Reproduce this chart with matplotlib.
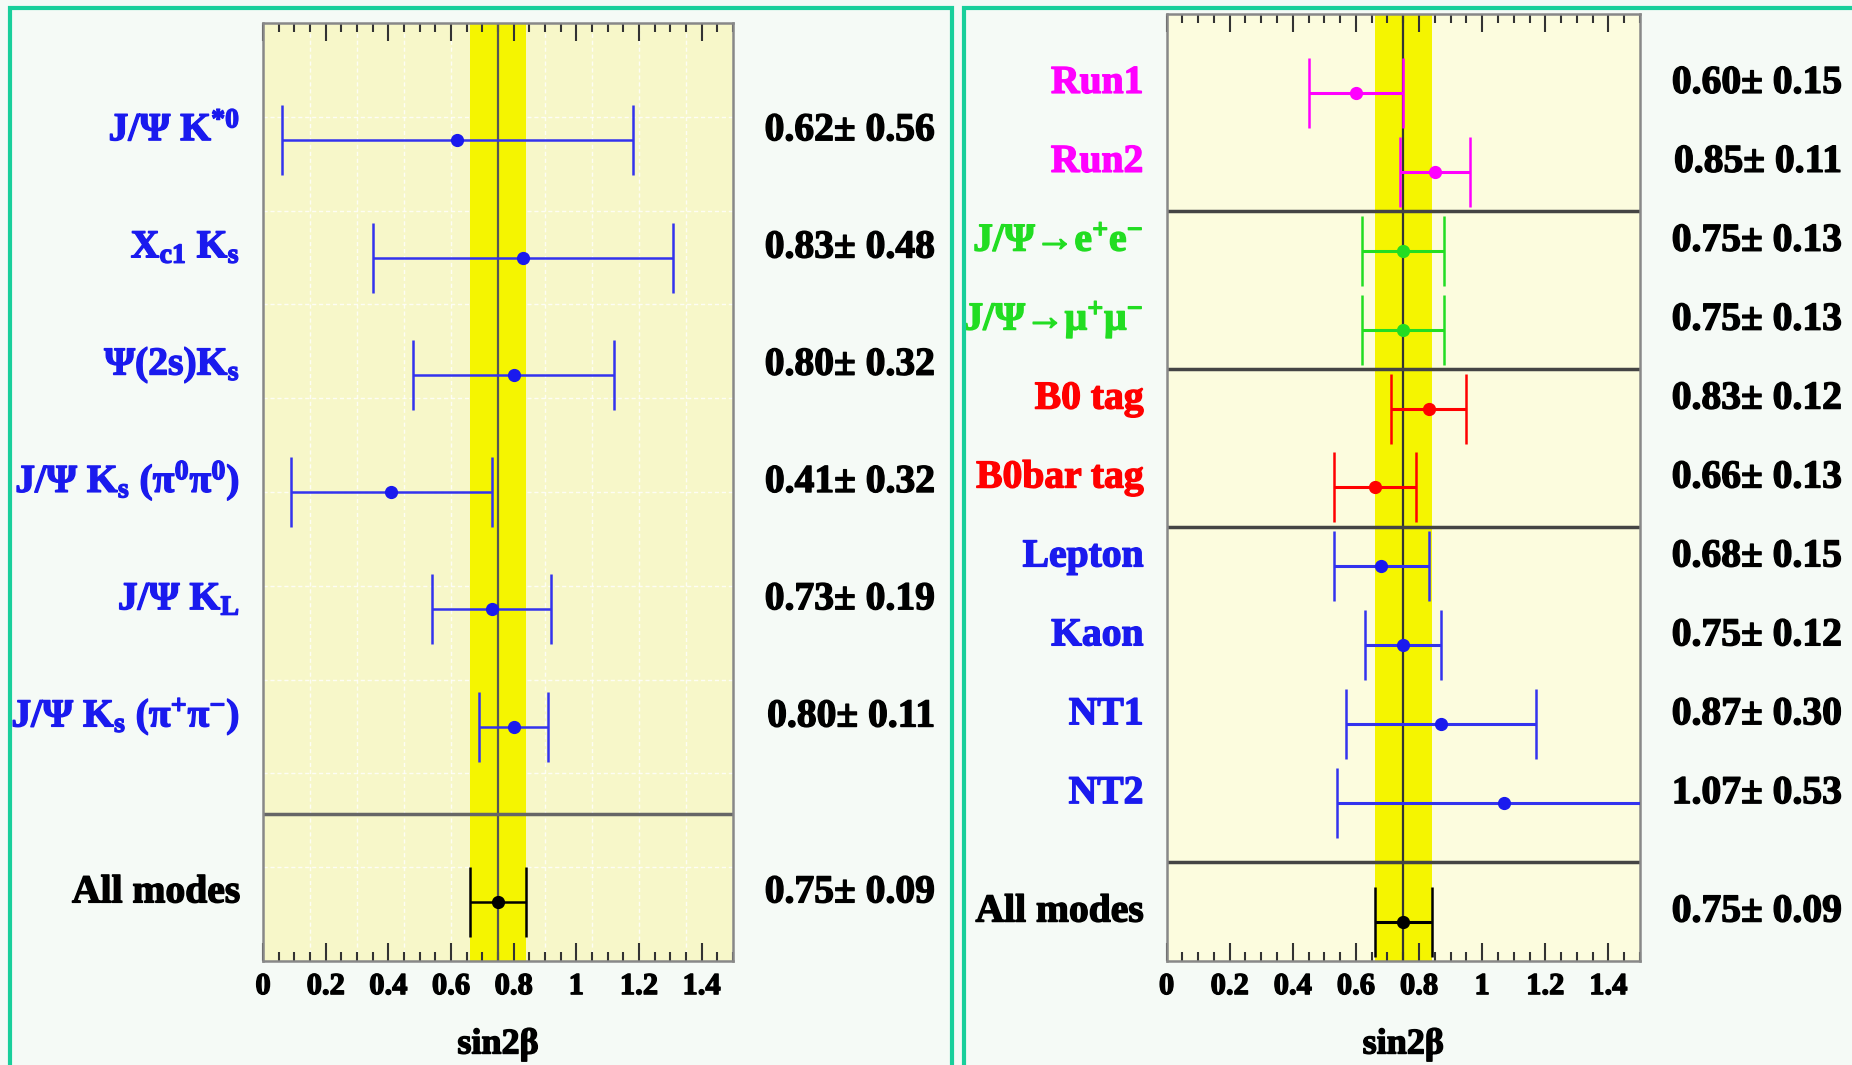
import numpy as np
import matplotlib
matplotlib.use('Agg')
import matplotlib.pyplot as plt
import matplotlib.patheffects as pe
from matplotlib.patches import Rectangle
from matplotlib.ticker import MultipleLocator, FormatStrFormatter

# Data: sin2beta per decay mode (left) and per subsample (right)
left_labels = [r'J/Ψ K$^{*0}$', r'X$_{\rm c1}$ K$_{\rm s}$', r'Ψ(2s)K$_{\rm s}$',
               r'J/Ψ K$_{\rm s}$ (π$^{0}$π$^{0}$)', r'J/Ψ K$_{\rm L}$',
               r'J/Ψ K$_{\rm s}$ (π$^{+}$π$^{-}$)', 'All modes']
left_vals = [0.62, 0.83, 0.80, 0.41, 0.73, 0.80, 0.75]
left_errs = [0.56, 0.48, 0.32, 0.32, 0.19, 0.11, 0.09]
left_rows = [1, 2, 3, 4, 5, 6, 7.5]
left_seps = [6.75]

right_labels = ['Run1', 'Run2', r'J/Ψ→e$^{+}$e$^{-}$', r'J/Ψ→μ$^{+}$μ$^{-}$',
                'B0 tag', 'B0bar tag', 'Lepton', 'Kaon', 'NT1', 'NT2', 'All modes']
right_vals = [0.60, 0.85, 0.75, 0.75, 0.83, 0.66, 0.68, 0.75, 0.87, 1.07, 0.75]
right_errs = [0.15, 0.11, 0.13, 0.13, 0.12, 0.13, 0.15, 0.12, 0.30, 0.53, 0.09]
right_rows = [1, 2, 3, 4, 5, 6, 7, 8, 9, 10, 11.5]
right_seps = [2.5, 4.5, 6.5, 10.75]
right_colors = ['#ff00ff', '#ff00ff', '#22dd22', '#22dd22', '#ff0000', '#ff0000',
                '#1a1aee', '#1a1aee', '#1a1aee', '#1a1aee', 'black']

avg, avg_err = 0.75, 0.09

plt.rcParams['font.family'] = ['Liberation Serif', 'DejaVu Serif']
plt.rcParams['font.weight'] = 'bold'
plt.rcParams['mathtext.fontset'] = 'custom'
plt.rcParams['mathtext.rm'] = 'Liberation Serif:bold'
plt.rcParams['mathtext.it'] = 'Liberation Serif:italic:bold'
plt.rcParams['mathtext.bf'] = 'Liberation Serif:bold'
plt.rcParams['hatch.linewidth'] = 2.0

W, H = 1852, 1065
fig = plt.figure(figsize=(W / 100, H / 100), dpi=100, facecolor='#f5faf6')

# green frames around the two panels
for x0, x1 in [(10, 952), (964, 1900)]:
    fig.add_artist(Rectangle((x0 / W, -0.2), (x1 - x0) / W, (H - 8) / H + 0.2,
                             transform=fig.transFigure, fill=False,
                             edgecolor='#19cf9b', lw=3))


def heavy(c):
    return [pe.withStroke(linewidth=1.0, foreground=c)]


def panel(rect, labels, vals, errs, rows, seps, colors, nrows, hatched):
    ax = fig.add_axes(rect)
    ax.set_xlim(0, 1.5)
    ax.set_ylim(nrows, 0)
    if hatched:
        ax.set_facecolor('#f5f5b8')
        ax.add_patch(Rectangle((0, 0), 1, 1, transform=ax.transAxes, facecolor='none',
                               edgecolor='#fcfcde', hatch='\\' * 14, lw=0, zorder=0))
    else:
        ax.set_facecolor('#f7f7c9')
        for gx in np.arange(0.15, 1.5, 0.15):
            ax.axvline(gx, color='white', lw=1, ls=(0, (3, 2)), alpha=0.8, zorder=0)
        for gy in np.arange(0.8, 8, 0.8):
            ax.axhline(gy, color='white', lw=1, ls=(0, (3, 2)), alpha=0.8, zorder=0)

    ax.axvspan(avg - avg_err, avg + avg_err, color='#f5f500', lw=0, zorder=1)
    ax.axvline(avg, color='#333333' if hatched else '#555555', lw=1.6, zorder=2)
    for s in seps:
        ax.axhline(s, color='#444444' if hatched else '#666666', lw=2.5, zorder=2)

    for lab, v, e, r, c in zip(labels, vals, errs, rows, colors):
        ecol = '#3333ee' if c == '#1a1aee' else c
        ax.errorbar(v, r, xerr=e, fmt='o', color=c, ecolor=ecol, ms=8.5,
                    elinewidth=2.2 if hatched else 1.8, capsize=25,
                    capthick=1.8, zorder=3)
        ax.annotate(lab, xy=(0, r), xycoords=('axes fraction', 'data'),
                    xytext=(-23, 0), textcoords='offset pixels',
                    ha='right', va='baseline', fontsize=28.5, color=c,
                    fontweight='bold', annotation_clip=False,
                    path_effects=heavy(c))
        ax.annotate('%.2f± %.2f' % (v, e), xy=(1, r), xycoords=('axes fraction', 'data'),
                    xytext=(202, 0), textcoords='offset pixels',
                    ha='right', va='baseline', fontsize=28.5, color='black',
                    fontweight='bold', annotation_clip=False,
                    path_effects=heavy('black'))

    ax.xaxis.set_major_locator(MultipleLocator(0.2))
    ax.xaxis.set_minor_locator(MultipleLocator(0.05))
    ax.xaxis.set_major_formatter(FormatStrFormatter('%g'))
    ax.tick_params(axis='x', which='both', direction='in', top=True, bottom=True,
                   width=1.5, color='#333333', labelsize=22, pad=8)
    ax.tick_params(axis='x', which='major', length=13)
    ax.tick_params(axis='x', which='minor', length=6.5)
    ax.set_yticks([])
    for t in ax.get_xticklabels():
        t.set_fontweight('bold')
        t.set_path_effects(heavy('black'))
    for sp in ax.spines.values():
        sp.set_color('#888888')
        sp.set_linewidth(1.8)
    ax.annotate('sin2β', xy=(0.5, 0), xycoords='axes fraction',
                xytext=(0, -84), textcoords='offset pixels',
                ha='center', va='center', fontsize=26, fontweight='bold',
                annotation_clip=False, path_effects=heavy('black'))
    return ax


panel([263 / W, (H - 961) / H, 470 / W, 938 / H], left_labels, left_vals, left_errs,
      left_rows, left_seps, ['#1a1aee'] * 6 + ['black'], 8, False)
panel([1166.5 / W, (H - 961) / H, 473.5 / W, 947 / H], right_labels, right_vals,
      right_errs, right_rows, right_seps, right_colors, 12, True)

fig.savefig('out.png', dpi=100, facecolor=fig.get_facecolor())
